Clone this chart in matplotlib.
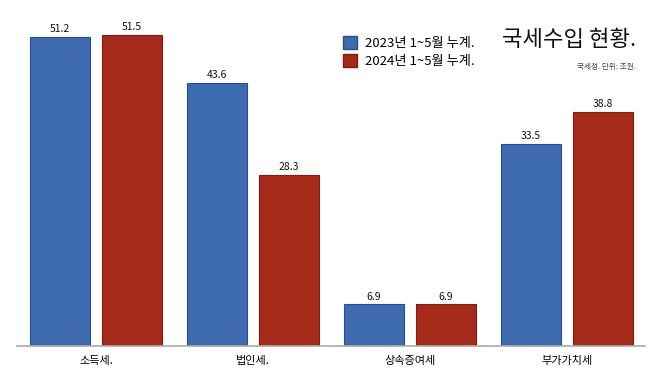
import matplotlib
matplotlib.use("Agg")
import matplotlib.pyplot as plt
from matplotlib.patches import Patch
import numpy as np

plt.rcParams['font.family'] = ['Noto Sans CJK KR', 'DejaVu Sans']

# data
categories = ["소득세.", "법인세.", "상속증여세", "부가가치세"]
vals_2023 = [51.2, 43.6, 6.9, 33.5]
vals_2024 = [51.5, 28.3, 6.9, 38.8]
labels = ["2023년 1~5월 누계.", "2024년 1~5월 누계."]

blue, blue_edge = "#3e6bb0", "#234f94"
red, red_edge = "#a52a1a", "#851a10"

fig = plt.figure(figsize=(6.58, 3.70), dpi=100)
ax = fig.add_axes([17/658, 24/370, 628/658, 344/370])

x = np.arange(len(categories))
w = 60/157
off = 36/157
b1 = ax.bar(x - off, vals_2023, width=w, color=blue, edgecolor=blue_edge, linewidth=0.8)
b2 = ax.bar(x + off, vals_2024, width=w, color=red, edgecolor=red_edge, linewidth=0.8)
for bars in (b1, b2):
    ax.bar_label(bars, fmt="%.1f", padding=2, fontsize=7.5, color="#111111")

ax.set_xlim(-0.503, 3.497)
ax.set_ylim(0, 57)
for s in ("top", "right", "left"):
    ax.spines[s].set_visible(False)
ax.spines["bottom"].set_color("#aaaaaa")
ax.spines["bottom"].set_linewidth(1.2)
ax.set_yticks([])
ax.set_xticks(x)
ax.set_xticklabels(categories, fontsize=8)
ax.tick_params(axis="x", length=0, pad=7)

handles = [Patch(facecolor=blue, edgecolor=blue_edge, label=labels[0]),
           Patch(facecolor=red, edgecolor=red_edge, label=labels[1])]
fig.legend(handles=handles, loc="upper left", bbox_to_anchor=(331/658, 1 - 24/370),
           frameon=False, fontsize=9.5, handlelength=1.1, handleheight=1.1,
           handletextpad=0.6, labelspacing=0.35)

fig.text(636/658, 1 - 40/370, "국세수입 현황.", fontsize=16, ha="right", va="center", color="#111111")
fig.text(636/658, 1 - 67/370, "국세청. 단위: 조원.", fontsize=5.5, ha="right", va="center", color="#444444")

fig.savefig("out.png", dpi=100)
